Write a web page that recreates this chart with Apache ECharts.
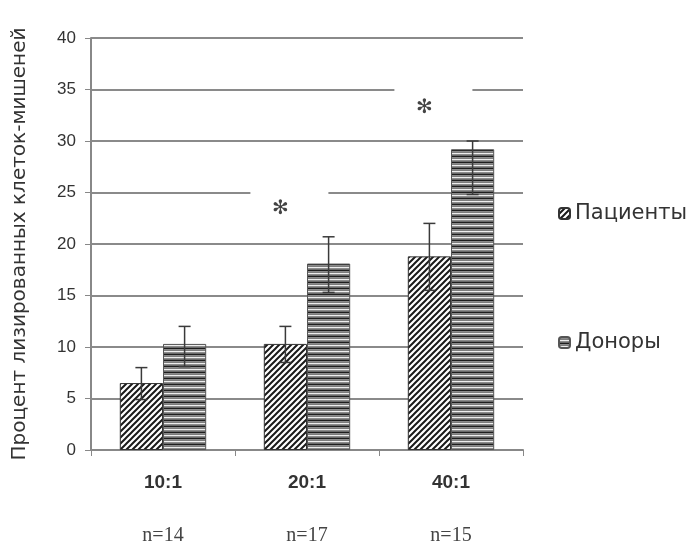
<!DOCTYPE html>
<html>
<head>
<meta charset="utf-8">
<script src="https://cdn.jsdelivr.net/npm/echarts@6/dist/echarts.min.js"></script>
<style>
  html, body { margin: 0; padding: 0; background: #fff; }
  #chart { width: 695px; height: 543px; }
</style>
</head>
<body>
<div id="chart"></div>
<script>
const categories = ["10:1", "20:1", "40:1"];
const groupSizes = ["n=14", "n=17", "n=15"];
const yTicks = { min: 0, max: 40, interval: 5 };

const patients = [6.5, 10.3, 18.8];
const patientsLow = [4.9, 8.5, 15.5];
const patientsHigh = [8.0, 12.0, 22.0];

const donors = [10.3, 18.1, 29.2];
const donorsLow = [8.1, 15.3, 24.8];
const donorsHigh = [12.0, 20.7, 30.0];

// significance marks (null = none)
const stars = [null, 23.4, 33.2];

function hatchPattern() {
  const c = document.createElement("canvas");
  c.width = 6; c.height = 6;
  const g = c.getContext("2d");
  g.fillStyle = "#fff";
  g.fillRect(0, 0, 6, 6);
  g.strokeStyle = "#1a1a1a";
  g.lineWidth = 2;
  g.beginPath();
  g.moveTo(-1, 7); g.lineTo(7, -1);
  g.moveTo(-4, 4); g.lineTo(4, -4);
  g.moveTo(2, 10); g.lineTo(10, 2);
  g.stroke();
  return { image: c, repeat: "repeat" };
}

function stripePattern() {
  const rows = ["#1e1e1e", "#8a8a8a", "#7c7c7c", "#eeeeee", "#8c8c8c", "#6a6a6a"];
  const c = document.createElement("canvas");
  c.width = 4; c.height = rows.length;
  const g = c.getContext("2d");
  rows.forEach((col, i) => { g.fillStyle = col; g.fillRect(0, i, 4, 1); });
  return { image: c, repeat: "repeat" };
}

const BAR_SHARE = 0.3; // bar width as share of category band

function errorSeries(low, high, side) {
  return {
    type: "custom",
    z: 5,
    silent: true,
    data: low.map((l, i) => [i, l, high[i]]),
    renderItem(params, api) {
      const band = api.size([1, 0])[0];
      const x = api.coord([api.value(0), 0])[0] + side * band * BAR_SHARE / 2;
      const y1 = api.coord([api.value(0), api.value(1)])[1];
      const y2 = api.coord([api.value(0), api.value(2)])[1];
      const cap = 6;
      const style = { stroke: "#3a3a3a", lineWidth: 1.5 };
      return {
        type: "group",
        children: [
          { type: "line", shape: { x1: x, y1: y1, x2: x, y2: y2 }, style },
          { type: "line", shape: { x1: x - cap, y1: y2, x2: x + cap, y2: y2 }, style },
          { type: "line", shape: { x1: x - cap, y1: y1, x2: x + cap, y2: y1 }, style },
        ],
      };
    },
  };
}

const chart = echarts.init(document.getElementById("chart"));

const option = {
  backgroundColor: "#fff",
  animation: false,
  grid: { left: 91, right: 172, top: 38, bottom: 93, outerBoundsMode: "none" },
  legend: {
    orient: "vertical",
    left: 553,
    top: 198,
    itemWidth: 11,
    itemHeight: 11,
    itemGap: 108,
    data: ["Пациенты", "Доноры"],
    textStyle: { fontFamily: "DejaVu Sans", fontSize: 21, color: "#333" },
  },
  xAxis: [
    {
      type: "category",
      data: categories,
      axisLine: { lineStyle: { color: "#888", width: 2 } },
      axisTick: { show: true, length: 6, lineStyle: { color: "#888" } },
      axisLabel: {
        margin: 23,
        color: "#333",
        fontFamily: "Liberation Sans",
        fontWeight: "bold",
        fontSize: 19,
      },
    },
    {
      type: "category",
      data: groupSizes,
      position: "bottom",
      offset: 76,
      axisLine: { show: false },
      axisTick: { show: false },
      axisLabel: {
        margin: 0,
        color: "#444",
        fontFamily: "Liberation Serif",
        fontSize: 20,
      },
    },
  ],
  yAxis: {
    type: "value",
    min: yTicks.min,
    max: yTicks.max,
    interval: yTicks.interval,
    name: "Процент лизированных клеток-мишеней",
    nameLocation: "middle",
    nameRotate: 90,
    nameGap: 61,
    nameTextStyle: { fontFamily: "DejaVu Sans", fontSize: 20, color: "#333" },
    axisLine: { show: true, lineStyle: { color: "#888", width: 2 } },
    axisTick: { show: true, length: 6, lineStyle: { color: "#888" } },
    axisLabel: { margin: 15, color: "#333", fontFamily: "Liberation Sans", fontSize: 17 },
    splitLine: { lineStyle: { color: "#8a8a8a", width: 2 } },
  },
  series: [
    {
      name: "Пациенты",
      type: "bar",
      data: patients,
      barGap: "0%",
      barCategoryGap: "40%",
      itemStyle: { color: hatchPattern(), borderColor: "#333", borderWidth: 1 },
    },
    {
      name: "Доноры",
      type: "bar",
      data: donors,
      itemStyle: { color: stripePattern(), borderColor: "#555", borderWidth: 1 },
    },
    errorSeries(patientsLow, patientsHigh, -1),
    errorSeries(donorsLow, donorsHigh, 1),
    {
      type: "custom",
      z: 6,
      silent: true,
      data: stars.map((v, i) => [i, v]).filter((d) => d[1] != null),
      renderItem(params, api) {
        const band = api.size([1, 0])[0];
        const p = api.coord([api.value(0), api.value(1)]);
        const x = p[0] - band * BAR_SHARE / 2 - 5;
        return {
          type: "group",
          children: [
            { type: "rect", shape: { x: x - 30, y: p[1] - 22, width: 78, height: 10 }, style: { fill: "#fff" } },
            {
              type: "text",
              style: {
                text: "✻",
                x: x,
                y: p[1],
                align: "center",
                verticalAlign: "middle",
                font: "20px 'DejaVu Sans'",
                fill: "#444",
              },
            },
          ],
        };
      },
    },
  ],
};

chart.setOption(option);
</script>
</body>
</html>
